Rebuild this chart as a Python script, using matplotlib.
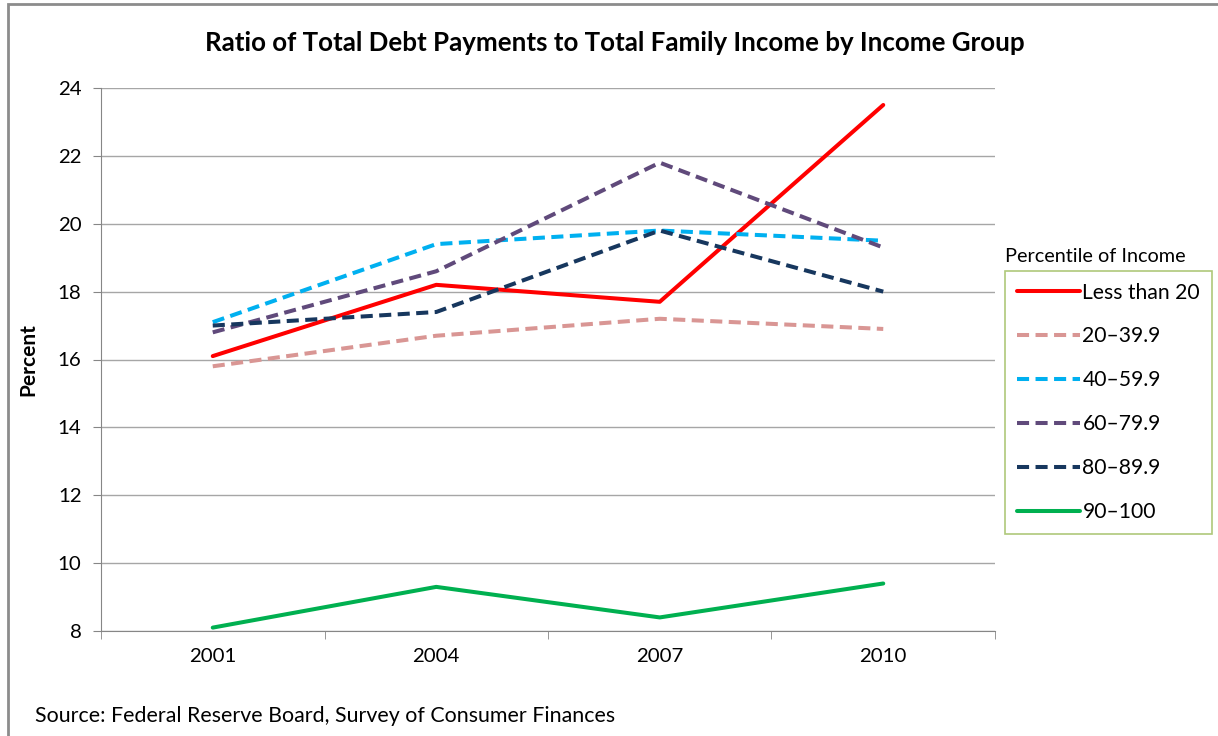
import matplotlib.pyplot as plt
from matplotlib.patches import Rectangle

years = ["2001", "2004", "2007", "2010"]
groups = ["Less than 20", "20\u201339.9", "40\u201359.9", "60\u201379.9", "80\u201389.9", "90\u2013100"]
less_than_20 = [16.1, 18.2, 17.7, 23.5]
p20_39 = [15.8, 16.7, 17.2, 16.9]
p40_59 = [17.1, 19.4, 19.8, 19.5]
p60_79 = [16.8, 18.6, 21.8, 19.3]
p80_89 = [17.0, 17.4, 19.8, 18.0]
p90_100 = [8.1, 9.3, 8.4, 9.4]

colors = ["#FF0000", "#D99694", "#00B0F0", "#604A7B", "#17375E", "#00B050"]
styles = ["-", "--", "--", "--", "--", "-"]

plt.rcParams["font.family"] = ["Lato", "DejaVu Sans"]


def main():
    fig = plt.figure(figsize=(12.18, 7.36), dpi=100)
    W, H = 1218, 736
    ax = fig.add_axes([101 / W, 1 - 631 / H, (995 - 101) / W, (631 - 88) / H])

    x = range(len(years))
    series = [less_than_20, p20_39, p40_59, p60_79, p80_89, p90_100]
    handles = []
    for vals, name, c, ls in zip(series, groups, colors, styles):
        (h,) = ax.plot(x, vals, color=c, lw=2.9, ls=ls, label=name,
                       solid_capstyle="round", dash_capstyle="butt")
        if ls == "--":
            h.set_dashes((3.0, 1.6))
        handles.append(h)

    ax.set_xlim(-0.5, 3.5)
    ax.set_ylim(8, 24)
    ax.set_yticks(range(8, 25, 2))
    ax.set_xticks(x)
    ax.set_xticklabels(years)
    ax.set_xticks([-0.5, 0.5, 1.5, 2.5, 3.5], minor=True)
    ax.tick_params(axis="x", which="major", length=0, pad=12, labelsize=14.7)
    ax.tick_params(axis="x", which="minor", length=6, color="#868686")
    ax.tick_params(axis="y", length=6, color="#868686", labelsize=14.7, pad=8)
    ax.grid(axis="y", color="#A6A6A6", lw=1)
    ax.set_axisbelow(True)
    for s in ["top", "right"]:
        ax.spines[s].set_visible(False)
    for s in ["left", "bottom"]:
        ax.spines[s].set_color("#868686")
    ax.set_ylabel("Percent", fontsize=15, fontweight="bold", labelpad=14)

    fig.text(615 / W, 1 - 43 / H, "Ratio of Total Debt Payments to Total Family Income by Income Group",
             ha="center", va="center", fontsize=18.6, fontweight="bold")
    fig.text(35 / W, 1 - 716 / H, "Source: Federal Reserve Board, Survey of Consumer Finances",
             ha="left", va="center", fontsize=15.4)
    fig.text(1005 / W, 1 - 257 / H, "Percentile of Income", ha="left", va="center", fontsize=14.3)

    leg = fig.legend(handles=handles, loc="upper left",
                     bbox_to_anchor=(1005 / W, 1 - 271 / H), bbox_transform=fig.transFigure,
                     borderaxespad=0, frameon=True, fancybox=False, fontsize=15.2,
                     handlelength=3.0, handletextpad=0.12, labelspacing=1.13,
                     borderpad=0.55)
    leg.get_frame().set_edgecolor("#9BBB59")
    leg.get_frame().set_linewidth(1.2)

    # outer chart border
    fig.patches.append(Rectangle((8 / W, -0.1), 1.2, 1 - 4 / H + 0.1, transform=fig.transFigure,
                                 fill=False, edgecolor="#8C8C8C", lw=2))

    fig.savefig("out.png", dpi=100)


if __name__ == "__main__":
    main()
